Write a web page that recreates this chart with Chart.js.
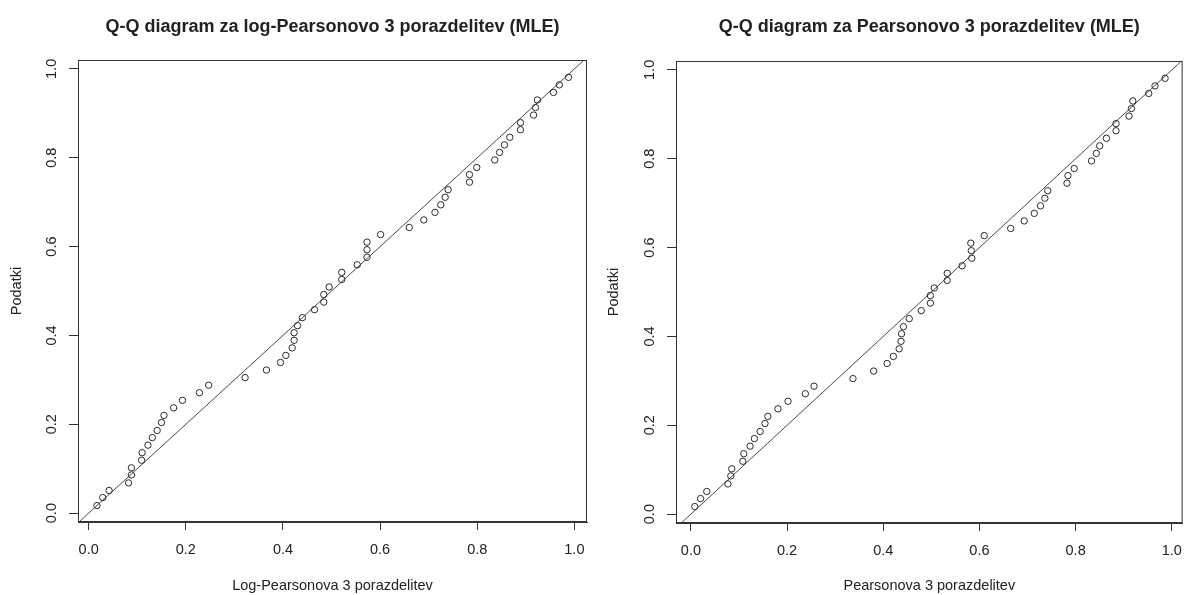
<!DOCTYPE html>
<html>
<head>
<meta charset="utf-8">
<script src="https://cdn.jsdelivr.net/npm/chart.js@4"></script>
<style>
  body { margin: 0; background: #fff; }
  .panel { position: absolute; top: 0; height: 595px; }
  #left { left: 0; width: 596px; }
  #right { left: 596px; width: 597px; }
</style>
</head>
<body>
<div class="panel" id="left"><canvas id="qqLog"></canvas></div>
<div class="panel" id="right"><canvas id="qqPearson"></canvas></div>
<script>
// sample quantiles (same data in both panels)
const podatki = [
    0.017, 0.035, 0.051, 0.068, 0.086, 0.102, 0.119, 0.136, 0.153, 0.170,
    0.186, 0.204, 0.220, 0.237, 0.254, 0.271, 0.288, 0.305, 0.322, 0.339,
    0.355, 0.372, 0.389, 0.406, 0.422, 0.440, 0.458, 0.475, 0.492, 0.509,
    0.526, 0.542, 0.559, 0.576, 0.593, 0.610, 0.627, 0.643, 0.660, 0.677,
    0.694, 0.711, 0.728, 0.745, 0.762, 0.778, 0.795, 0.812, 0.829, 0.846,
    0.863, 0.879, 0.896, 0.913, 0.930, 0.947, 0.964, 0.981
];

// theoretical quantiles, log-Pearson 3
const logPearsonQ = [
    0.017, 0.029, 0.042, 0.082, 0.088, 0.088, 0.109, 0.110, 0.122, 0.131,
    0.141, 0.150, 0.155, 0.175, 0.193, 0.228, 0.247, 0.322, 0.366, 0.395,
    0.406, 0.419, 0.423, 0.423, 0.430, 0.440, 0.465, 0.484, 0.484, 0.495,
    0.521, 0.521, 0.553, 0.573, 0.573, 0.573, 0.601, 0.660, 0.690, 0.713,
    0.725, 0.734, 0.740, 0.784, 0.784, 0.799, 0.836, 0.846, 0.856, 0.867,
    0.889, 0.889, 0.916, 0.920, 0.924, 0.957, 0.969, 0.988
];

// theoretical quantiles, Pearson 3
const pearsonQ = [
    0.008, 0.020, 0.033, 0.077, 0.083, 0.085, 0.108, 0.110, 0.123, 0.132,
    0.144, 0.154, 0.160, 0.181, 0.202, 0.238, 0.256, 0.337, 0.380, 0.408,
    0.421, 0.433, 0.437, 0.438, 0.442, 0.454, 0.479, 0.498, 0.498, 0.506,
    0.533, 0.533, 0.564, 0.584, 0.583, 0.582, 0.610, 0.665, 0.693, 0.714,
    0.727, 0.736, 0.742, 0.782, 0.784, 0.797, 0.833, 0.843, 0.850, 0.864,
    0.884, 0.884, 0.911, 0.916, 0.919, 0.952, 0.965, 0.986
];

const tickValues = [0.0, 0.2, 0.4, 0.6, 0.8, 1.0];
const refLine = [-0.05, 1.05];   // y = x

const FONT = "'Liberation Sans', Arial, sans-serif";
const INK = '#222';

// R-like frame, main title and vertical y tick labels
const rStyle = {
    id: 'rStyle',
    afterDraw(chart, args, opts) {
        const { ctx, chartArea: a, scales } = chart;
        ctx.save();
        ctx.strokeStyle = '#333';
        ctx.lineWidth = 1;
        ctx.strokeRect(a.left + 0.5, a.top + 0.5, a.right - a.left - 1, a.bottom - a.top - 1);

        ctx.fillStyle = INK;
        ctx.font = "bold 18px " + FONT;
        ctx.textAlign = 'center';
        ctx.textBaseline = 'middle';
        ctx.fillText(opts.title, (a.left + a.right) / 2, 27);

        ctx.font = "14.5px " + FONT;
        const ys = scales.y;
        ys.ticks.forEach(t => {
            const py = ys.getPixelForValue(t.value);
            ctx.save();
            ctx.translate(a.left - 26, py);
            ctx.rotate(-Math.PI / 2);
            ctx.fillText(t.value.toFixed(1), 0, 0);
            ctx.restore();
        });
        ctx.restore();
    }
};

function makeQQ(canvasId, theo, xLabel, title, box) {
    const pts = theo.map((q, i) => ({ x: q, y: podatki[i] }));
    const line = refLine.map(v => ({ x: v, y: v }));

    return new Chart(document.getElementById(canvasId), {
        type: 'scatter',
        data: {
            datasets: [
                {
                    data: pts,
                    pointStyle: 'circle',
                    pointRadius: 3.2,
                    borderWidth: 1,
                    borderColor: '#2a2a2a',
                    backgroundColor: 'rgba(0,0,0,0)'
                },
                {
                    data: line,
                    showLine: true,
                    pointRadius: 0,
                    borderColor: '#4a4a4a',
                    borderWidth: 1,
                    fill: false
                }
            ]
        },
        options: {
            responsive: true,
            maintainAspectRatio: false,
            animation: false,
            layout: { padding: { top: box.top, right: box.right, bottom: 0, left: 0 } },
            plugins: {
                legend: { display: false },
                tooltip: { enabled: false },
                rStyle: { title: title }
            },
            scales: {
                x: {
                    type: 'linear',
                    min: box.xmin,
                    max: box.xmax,
                    afterBuildTicks: s => { s.ticks = tickValues.map(v => ({ value: v })); },
                    afterFit: s => { s.height = box.xh; },
                    grid: { drawOnChartArea: false, tickLength: 8, color: '#333' },
                    border: { color: '#333' },
                    ticks: {
                        padding: 11,
                        color: INK,
                        font: { family: FONT, size: 14.5 },
                        maxRotation: 0,
                        callback: v => v.toFixed(1)
                    },
                    title: {
                        display: true,
                        text: xLabel,
                        color: INK,
                        font: { family: FONT, size: 14.5 },
                        padding: { top: 0, bottom: 0 }
                    }
                },
                y: {
                    type: 'linear',
                    min: -0.02,
                    max: 1.02,
                    afterBuildTicks: s => { s.ticks = tickValues.map(v => ({ value: v })); },
                    afterFit: s => { s.width = box.yw; },
                    grid: { drawOnChartArea: false, tickLength: 9, color: '#333' },
                    border: { color: '#333' },
                    ticks: {
                        color: 'rgba(0,0,0,0)',
                        font: { family: FONT, size: 14.5 },
                        callback: v => v.toFixed(1)
                    },
                    title: {
                        display: true,
                        text: 'Podatki',
                        color: INK,
                        font: { family: FONT, size: 14.5 },
                        padding: { top: box.ytp, bottom: 0 }
                    }
                }
            }
        },
        plugins: [rStyle]
    });
}

makeQQ('qqLog', logPearsonQ, 'Log-Pearsonova 3 porazdelitev',
    'Q-Q diagram za log-Pearsonovo 3 porazdelitev (MLE)',
    { top: 60, right: 9, xh: 73, yw: 78, ytp: 8, xmin: -0.022, xmax: 1.026 });

makeQQ('qqPearson', pearsonQ, 'Pearsonova 3 porazdelitev',
    'Q-Q diagram za Pearsonovo 3 porazdelitev (MLE)',
    { top: 61, right: 2, xh: 72, yw: 80, ytp: 9, xmin: -0.031, xmax: 1.0225 });
</script>
</body>
</html>
